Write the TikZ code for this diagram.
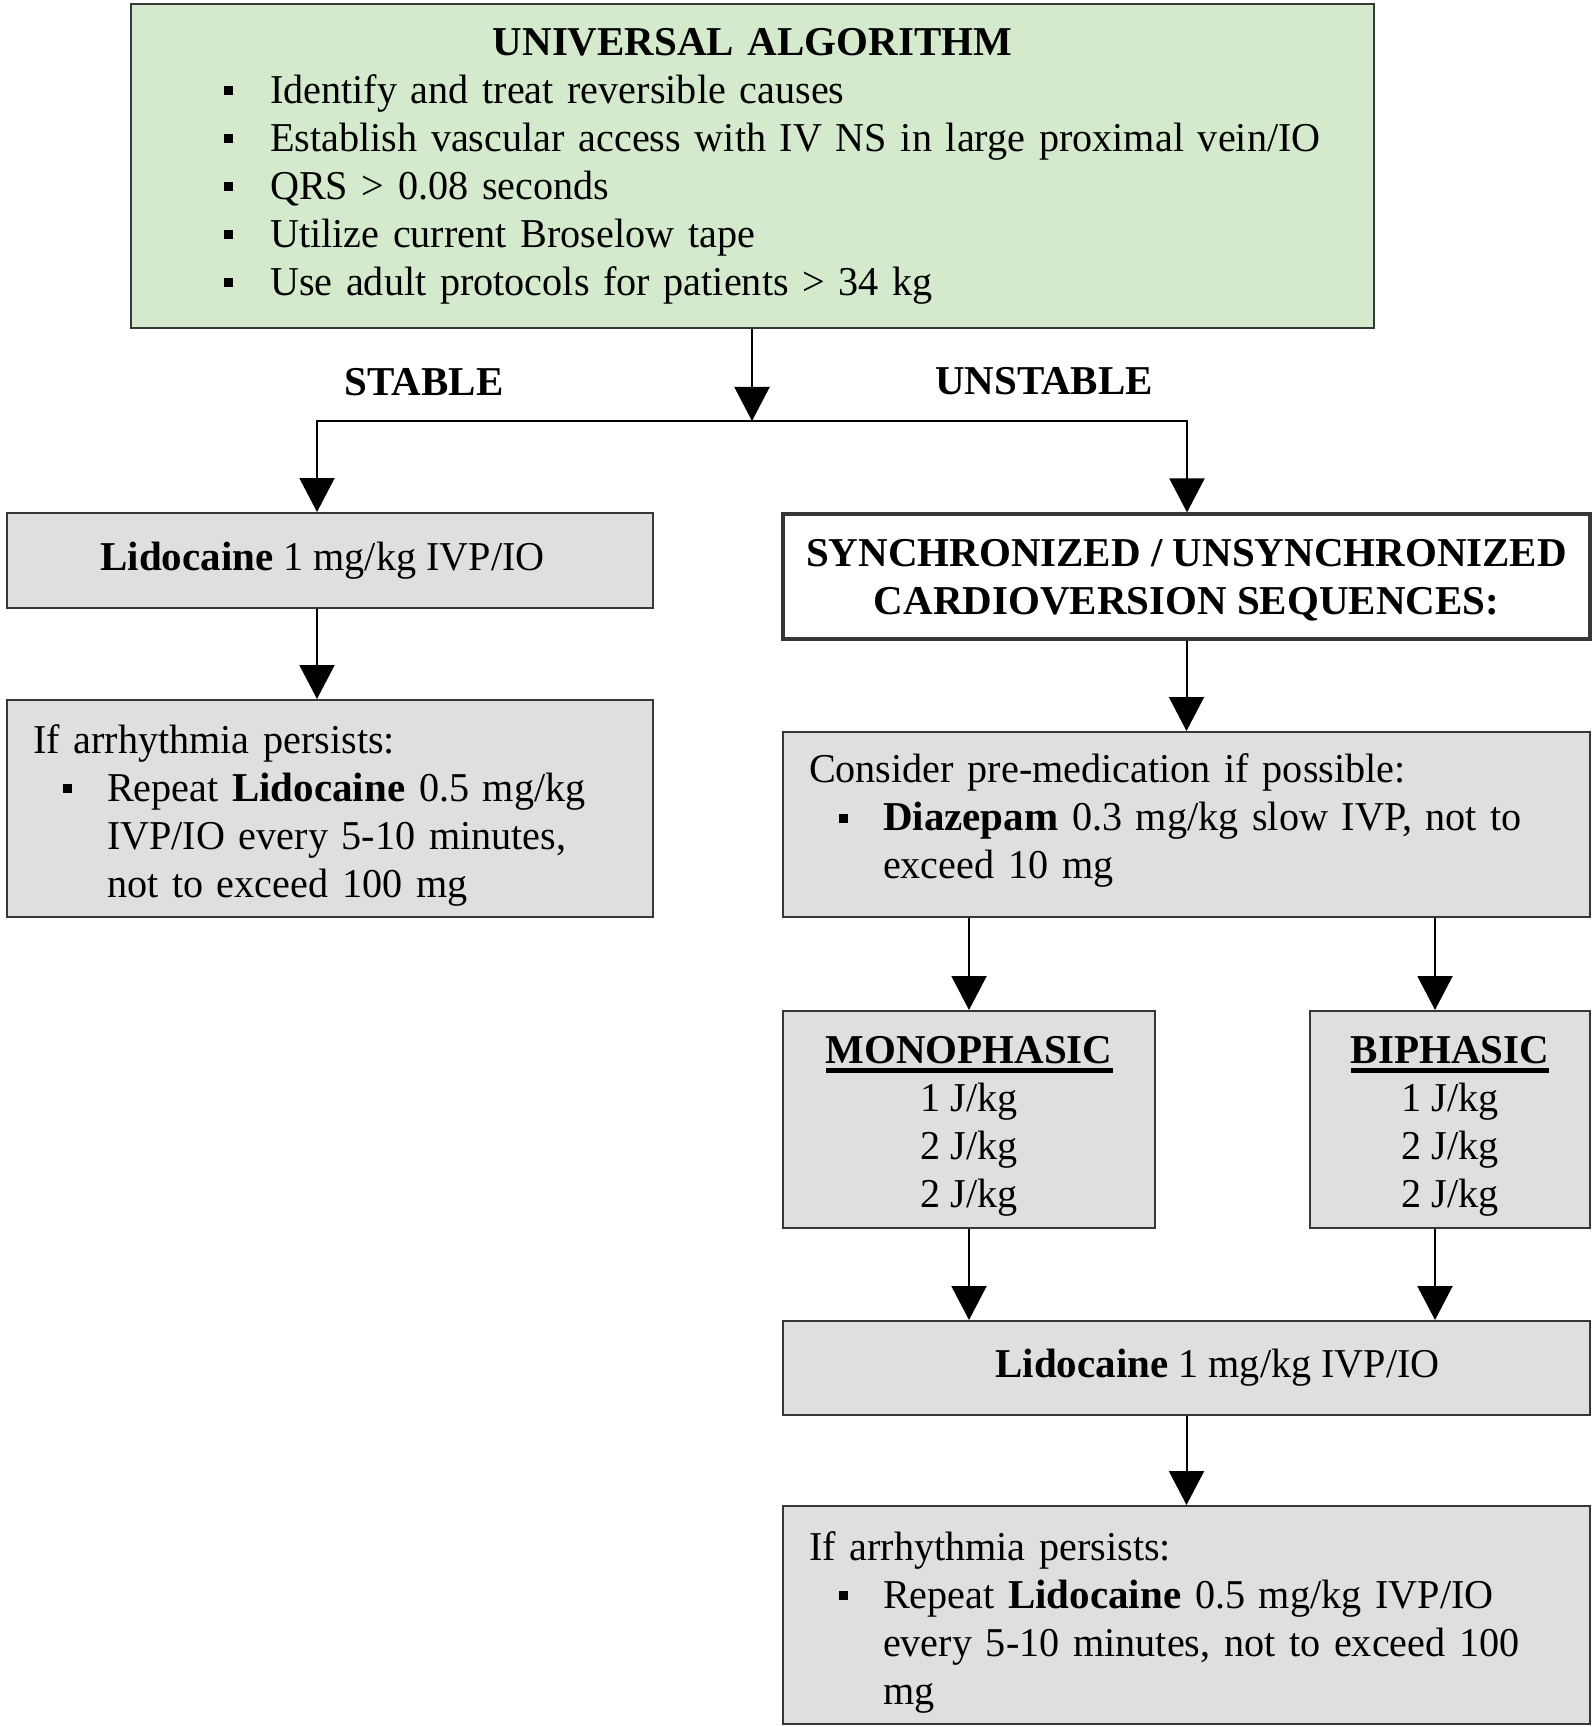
\documentclass[tikz,border=0pt]{standalone}
\usepackage{fontspec}
\setmainfont{Liberation Serif}[UprightFeatures={FakeStretch=0.98}]
\usepackage{tikz}
\usetikzlibrary{arrows.meta,positioning,calc}

\definecolor{algogreen}{RGB}{213,234,205}
\definecolor{boxgray}{RGB}{223,223,223}
\definecolor{boxline}{RGB}{55,55,55}

% small square bullet, item text hung in a parbox
\newcommand{\sqbullet}{\raisebox{0.2em}{\rule{0.22em}{0.22em}}}
\newcommand{\bitem}[3]{\par\noindent\hspace*{#1}\makebox[\dimexpr#2-#1\relax][l]{\sqbullet}\parbox[t]{\dimexpr\hsize-#2\relax}{#3}}
\newsavebox{\ulbox}
\newcommand{\heavyul}[1]{\sbox{\ulbox}{#1}\rlap{\rule[-5pt]{\wd\ulbox}{2.6pt}}\usebox{\ulbox}}

\begin{document}
\begin{tikzpicture}[x=0.5pt,y=-0.5pt,
    every node/.style={font=\fontsize{20.5pt}{24pt}\selectfont},
    box/.style={draw=boxline,line width=1pt,fill=boxgray,inner xsep=13pt,inner ysep=0pt},
    listbox/.style={box,align=left},
    centerbox/.style={box,align=center},
    arr/.style={line width=1pt,-{Triangle[length=17pt,width=17.5pt]}}]
  \useasboundingbox (0,0) rectangle (1591,1727);

  \node[listbox,fill=algogreen,text width=595.5pt,minimum height=162pt] (algo) at (752.5,166)
    {\makebox[\hsize]{\textbf{UNIVERSAL ALGORITHM}}%
     \bitem{33.5pt}{56.5pt}{Identify and treat reversible causes}%
     \bitem{33.5pt}{56.5pt}{Establish vascular access with IV NS in large proximal vein/IO}%
     \bitem{33.5pt}{56.5pt}{QRS > 0.08 seconds}%
     \bitem{33.5pt}{56.5pt}{Utilize current Broselow tape}%
     \bitem{33.5pt}{56.5pt}{Use adult protocols for patients > 34 kg}};

  \node (stable) at (424,382) {\textbf{STABLE}};
  \node (unstable) at (1044,381) {\textbf{UNSTABLE}};

  % stable branch
  \node[centerbox,minimum width=323pt,minimum height=47.5pt] (lidoS) at (330,560.5)
    {\textbf{Lidocaine} 1 mg/kg IVP/IO\hspace*{7.5pt}};
  \node[listbox,text width=297pt,minimum height=108.5pt] (persistS) at (330,808.5)
    {\rule{0pt}{21pt}If arrhythmia persists:%
     \bitem{15pt}{37pt}{Repeat \textbf{Lidocaine} 0.5 mg/kg\newline IVP/IO every 5-10 minutes,\newline not to exceed 100 mg}};

  % unstable branch
  \node[centerbox,fill=white,line width=1.6pt,inner xsep=4pt,minimum width=403.5pt,minimum height=62.5pt] (sync) at (1186.5,576.5)
    {\rule{0pt}{17pt}\textbf{SYNCHRONIZED / UNSYNCHRONIZED}\\\textbf{CARDIOVERSION SEQUENCES:}};
  \node[listbox,text width=377.5pt,minimum height=92.5pt] (premed) at (1186.5,824.5)
    {Consider pre-medication if possible:%
     \bitem{15pt}{37pt}{\textbf{Diazepam} 0.3 mg/kg slow IVP, not to\newline exceed 10 mg\rule[-8pt]{0pt}{8pt}}};
  \node[centerbox,minimum width=186pt,minimum height=108.5pt] (mono) at (969,1119.5)
    {\rule{0pt}{20pt}\heavyul{\textbf{MONOPHASIC}}\\1 J/kg\\2 J/kg\\2 J/kg};
  \node[centerbox,minimum width=140pt,minimum height=108.5pt] (bi) at (1450,1119.5)
    {\rule{0pt}{20pt}\heavyul{\textbf{BIPHASIC}}\\1 J/kg\\2 J/kg\\2 J/kg};
  \node[centerbox,minimum width=403.5pt,minimum height=47pt] (lidoU) at (1186.5,1368)
    {\hspace*{31pt}\textbf{Lidocaine} 1 mg/kg IVP/IO};
  \node[listbox,text width=377.5pt,minimum height=109pt] (persistU) at (1186.5,1615)
    {\rule{0pt}{21.5pt}If arrhythmia persists:%
     \bitem{15pt}{37pt}{Repeat \textbf{Lidocaine} 0.5 mg/kg IVP/IO\newline every 5-10 minutes, not to exceed 100\newline mg}};

  % connectors
  \coordinate (split) at (752,421);
  \coordinate (splitL) at (317,421);
  \coordinate (splitR) at (1187,421);
  \coordinate (biX) at (1435,0);
  \draw[arr] (algo.south -| split) -- (split);
  \draw[line width=1pt,line cap=rect] (splitL) -- (splitR);
  \draw[arr] (splitL) -- (lidoS.north -| splitL);
  \draw[arr] (splitR) -- (sync.north -| splitR);
  \draw[arr] (lidoS.south -| splitL) -- (persistS.north -| splitL);
  \draw[arr] (sync.south) -- (premed.north);
  \draw[arr] (premed.south -| mono) -- (mono.north);
  \draw[arr] (premed.south -| biX) -- (bi.north -| biX);
  \draw[arr] (mono.south) -- (lidoU.north -| mono);
  \draw[arr] (bi.south -| biX) -- (lidoU.north -| biX);
  \draw[arr] (lidoU.south) -- (persistU.north);
\end{tikzpicture}
\end{document}
